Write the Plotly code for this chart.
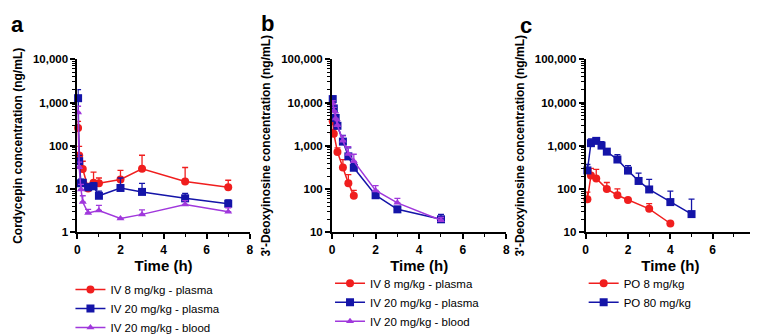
import plotly.graph_objects as go

# ---------------- data ----------------
# Panel a: Cordycepin
a_red_t = [0.033, 0.083, 0.25, 0.5, 0.75, 1, 2, 3, 5, 7]
a_red_y = [257, 60, 29, 10.3, 14, 13.6, 16.7, 29.5, 15, 11]
a_red_err = [110, 37, 15, 3.3, 10.6, 4.4, 10.3, 31, 16.5, 5]

a_blue_t = [0.033, 0.083, 0.167, 0.25, 0.5, 0.75, 1, 2, 3, 5, 7]
a_blue_y = [1260, 44, 13.6, 14, 11, 11.6, 7.0, 10.6, 8.6, 6.1, 4.6]
a_blue_err = [730, 16, 3.4, 2, 2, 2.4, 2, 7.4, 5, 1.8, 1.0]

a_purple_t = [0.033, 0.083, 0.167, 0.25, 0.5, 1, 2, 3, 5, 7]
a_purple_y = [590, 32, 9.8, 5.0, 2.8, 3.2, 2.1, 2.6, 4.4, 3.0]
a_purple_err = [230, 10, 3, 2, 0.6, 1.0, 0, 0.7, 1.0, 0.7]

# Panel b: 3'-Deoxyinosine after IV
b_red_t = [0.033, 0.083, 0.25, 0.5, 0.75, 1]
b_red_y = [3700, 1900, 720, 316, 137, 70]
b_red_err = [1200, 500, 180, 164, 78, 23]

b_blue_t = [0.033, 0.083, 0.167, 0.25, 0.5, 0.75, 1, 2, 3, 5]
b_blue_y = [12000, 7300, 4400, 2900, 1250, 570, 311, 72, 34, 20]
b_blue_err = [2000, 1000, 800, 500, 500, 330, 80, 18, 5, 6]

b_purple_t = [0.033, 0.083, 0.167, 0.25, 0.5, 0.75, 1, 2, 3, 5]
b_purple_y = [9500, 6500, 4300, 3000, 1300, 650, 437, 93, 48, 19]
b_purple_err = [1500, 1200, 1500, 800, 400, 300, 200, 27, 13, 3]

# Panel c: 3'-Deoxyinosine after PO
c_red_t = [0.083, 0.25, 0.5, 1, 1.5, 2, 3, 4]
c_red_y = [58, 205, 176, 101, 72, 56, 35, 16]
c_red_err = [27, 95, 110, 41, 29, 7, 11, 0]

c_blue_t = [0.083, 0.25, 0.5, 0.75, 1, 1.5, 2, 2.5, 3, 4, 5]
c_blue_y = [270, 1150, 1300, 1010, 733, 482, 267, 154, 98, 50, 26.4]
c_blue_err = [100, 290, 140, 240, 120, 140, 80, 80, 70, 40, 32]

a_names = ["IV 8 mg/kg - plasma", "IV 20 mg/kg - plasma", "IV 20 mg/kg - blood"]
c_names = ["PO 8 mg/kg", "PO 80 mg/kg"]

x_tickvals = [0, 2, 4, 6, 8]
a_ytickvals = [1, 10, 100, 1000, 10000]
a_yticktext = ["1", "10", "100", "1,000", "10,000"]
bc_ytickvals = [10, 100, 1000, 10000, 100000]
bc_yticktext = ["10", "100", "1,000", "10,000", "100,000"]

# ---------------- style ----------------
RED = "#F01E1E"
BLUE = "#1414A8"
PURPLE = "#A038DC"
FONT = "Liberation Sans, Arial, sans-serif"
W, H = 758, 334

fig = go.Figure()


def add(x, y, err, color, symbol, size, name, xa, ya, legend):
    fig.add_trace(go.Scatter(
        x=x, y=y, name=name, mode="lines+markers",
        xaxis=xa, yaxis=ya, legend=legend, cliponaxis=False,
        line=dict(color=color, width=1.5),
        marker=dict(color=color, symbol=symbol, size=size),
        error_y=dict(type="data", symmetric=False, array=err,
                     arrayminus=[0] * len(err), color=color,
                     thickness=1.3, width=3),
    ))


add(a_red_t, a_red_y, a_red_err, RED, "circle", 8, a_names[0], "x", "y", "legend")
add(a_blue_t, a_blue_y, a_blue_err, BLUE, "square", 8, a_names[1], "x", "y", "legend")
add(a_purple_t, a_purple_y, a_purple_err, PURPLE, "triangle-up", 7, a_names[2], "x", "y", "legend")

add(b_red_t, b_red_y, b_red_err, RED, "circle", 8, a_names[0], "x2", "y2", "legend2")
add(b_blue_t, b_blue_y, b_blue_err, BLUE, "square", 8, a_names[1], "x2", "y2", "legend2")
add(b_purple_t, b_purple_y, b_purple_err, PURPLE, "triangle-up", 7, a_names[2], "x2", "y2", "legend2")

add(c_red_t, c_red_y, c_red_err, RED, "circle", 8, c_names[0], "x3", "y3", "legend3")
add(c_blue_t, c_blue_y, c_blue_err, BLUE, "square", 8, c_names[1], "x3", "y3", "legend3")


def minor_vals(lo, hi):
    v = []
    d = lo
    while d < hi:
        for k in range(2, 10):
            v.append(k * d)
        d *= 10
    return v


def xax(x0, x1):
    return dict(
        domain=[x0 / W, x1 / W], range=[0, 8], tickvals=x_tickvals,
        showline=True, linecolor="black", linewidth=2, mirror=False,
        ticks="outside", ticklen=5, tickwidth=1.5, tickcolor="black",
        showgrid=False, zeroline=False,
        tickfont=dict(family=FONT, size=12, color="black", weight="bold"),
        title=dict(text="Time (h)", font=dict(family=FONT, size=15, color="black", weight="bold"),
                   standoff=2),
        minor=dict(tickvals=[1, 3, 5, 7], ticks="outside", ticklen=3, tickwidth=1.2, tickcolor="black"),
    )


def yax(anchor, lo, hi, tv, tt, title):
    return dict(
        type="log", domain=[1 - 231.5 / H, 1 - 48 / H], range=[lo, hi],
        anchor=anchor, tickvals=tv, ticktext=tt,
        showline=True, linecolor="black", linewidth=2,
        ticks="outside", ticklen=5, tickwidth=1.5, tickcolor="black",
        showgrid=False, zeroline=False,
        tickfont=dict(family=FONT, size=11.5, color="black", weight="bold"),
        title=dict(text=title, font=dict(family=FONT, size=12, color="black", weight="bold"),
                   standoff=8),
        minor=dict(tickvals=minor_vals(10 ** lo, 10 ** hi), ticks="outside", ticklen=3,
                   tickwidth=1, tickcolor="black"),
    )


legfont = dict(family=FONT, size=11.5, color="black")

fig.update_layout(
    width=W, height=H, autosize=False,
    margin=dict(l=0, r=0, t=0, b=0),
    paper_bgcolor="white", plot_bgcolor="white",
    xaxis=dict(anchor="y", **xax(67, 241)),
    xaxis2=dict(anchor="y2", **xax(324, 500)),
    xaxis3=dict(anchor="y3", **xax(580, 751)),
    yaxis=yax("x", 0, 4, a_ytickvals, a_yticktext, "Cordycepin concentration (ng/mL)"),
    yaxis2=yax("x2", 1, 5, bc_ytickvals, bc_yticktext, "3'-Deoxyinosine concentration (ng/mL)"),
    yaxis3=yax("x3", 1, 5, bc_ytickvals, bc_yticktext, "3'-Deoxyinosine concentration (ng/mL)"),
    legend=dict(x=60 / W, y=1 - 277 / H, xanchor="left", yanchor="top", font=legfont,
                bgcolor="rgba(0,0,0,0)", tracegroupgap=0),
    legend2=dict(x=322 / W, y=1 - 270 / H, xanchor="left", yanchor="top", font=legfont,
                 bgcolor="rgba(0,0,0,0)", tracegroupgap=0),
    legend3=dict(x=578 / W, y=1 - 270 / H, xanchor="left", yanchor="top", font=legfont,
                 bgcolor="rgba(0,0,0,0)", tracegroupgap=0),
    showlegend=True,
)

for label, px, py in [("a", 7, 11), ("b", 259, 10), ("c", 520, 12)]:
    fig.add_annotation(text=label, xref="paper", yref="paper", x=px / W, y=1 - py / H,
                       showarrow=False, xanchor="center", yanchor="middle",
                       font=dict(family=FONT, size=22, color="black", weight="bold"))

fig.write_html("out.html")
